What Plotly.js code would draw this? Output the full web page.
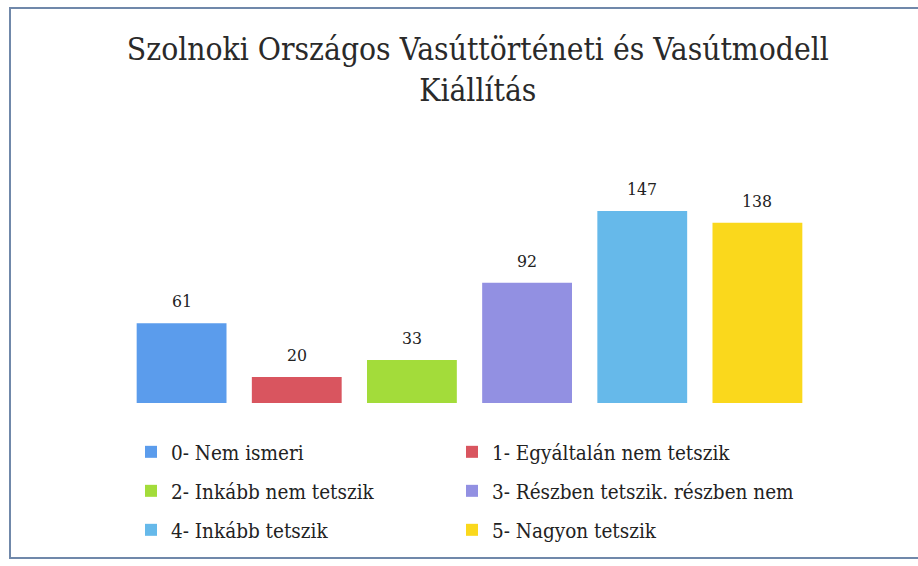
<!DOCTYPE html>
<html>
<head>
<meta charset="utf-8">
<script src="https://cdn.plot.ly/plotly-3.0.1.min.js"></script>
<style>
  html, body { margin: 0; padding: 0; background: #ffffff; }
  #wrap { position: relative; width: 918px; height: 566px; overflow: hidden; }
  #chart { position: absolute; left: 0; top: 0; width: 918px; height: 566px; }
  #frame { position: absolute; left: 9px; top: 7px; width: 930px; height: 552px;
           border: 2px solid #7088aa; box-sizing: border-box; pointer-events: none; }
</style>
</head>
<body>
<div id="wrap">
  <div id="chart"></div>
  <div id="frame"></div>
</div>
<script>
const chartTitle = "Szolnoki Országos Vasúttörténeti és Vasútmodell<br>Kiállítás";
const categories = ["0- Nem ismeri", "1- Egyáltalán nem tetszik", "2- Inkább nem tetszik",
                    "3- Részben tetszik. részben nem", "4- Inkább tetszik", "5- Nagyon tetszik"];
const values = [61, 20, 33, 92, 147, 138];
const colors = ["#5b9cec", "#d9555f", "#a3dc3a", "#9290e2", "#66b9ea", "#fad81c"];
const legendIds = ["legend", "legend2", "legend3", "legend4", "legend5", "legend6"];

const serif = "DejaVu Serif Condensed, DejaVu Serif, serif";

const traces = categories.map((name, i) => ({
  type: "bar",
  name: name,
  x: [name],
  y: [values[i]],
  marker: { color: colors[i], line: { width: 0 } },
  legend: legendIds[i],
  hoverinfo: "name+y"
}));

const annotations = categories.map((name, i) => ({
  x: name, y: values[i], xref: "x", yref: "y",
  text: String(values[i]), showarrow: false,
  yanchor: "bottom", yshift: 10,
  font: { family: serif, size: 17.5, color: "#222222" }
}));

const plotTop = 194, plotBottom = 403, plotH = plotBottom - plotTop;
const plotLeft = 124, plotRight = 815, plotW = plotRight - plotLeft;
function legendY(py) { return (plotBottom - py) / plotH; }
function legendX(px) { return (px - plotLeft) / plotW; }

// legend grid: two columns, three rows
const colPx = [131, 452];
const rowPx = [452, 491, 530];

const layout = {
  width: 918, height: 566,
  paper_bgcolor: "rgba(0,0,0,0)", plot_bgcolor: "rgba(0,0,0,0)",
  margin: { l: plotLeft, r: 918 - plotRight, t: plotTop, b: 566 - plotBottom },
  title: {
    text: chartTitle, x: 0.512, xanchor: "center", xref: "paper",
    y: 1 - 60 / 566, yanchor: "top", yref: "container",
    font: { family: serif, size: 31.5, color: "#2a2a2a" }
  },
  bargap: 0.22,
  showlegend: true,
  xaxis: { visible: false, fixedrange: true },
  yaxis: { visible: false, range: [0, 160], fixedrange: true },
  annotations: annotations
};

legendIds.forEach((id, i) => {
  layout[id] = {
    orientation: "h", xanchor: "left", yanchor: "middle",
    x: legendX(colPx[i % 2]), y: legendY(rowPx[Math.floor(i / 2)]),
    font: { family: serif, size: 20.5, color: "#222222" },
    bgcolor: "rgba(0,0,0,0)"
  };
});

Plotly.newPlot("chart", traces, layout, { displayModeBar: false, staticPlot: true });
</script>
</body>
</html>
